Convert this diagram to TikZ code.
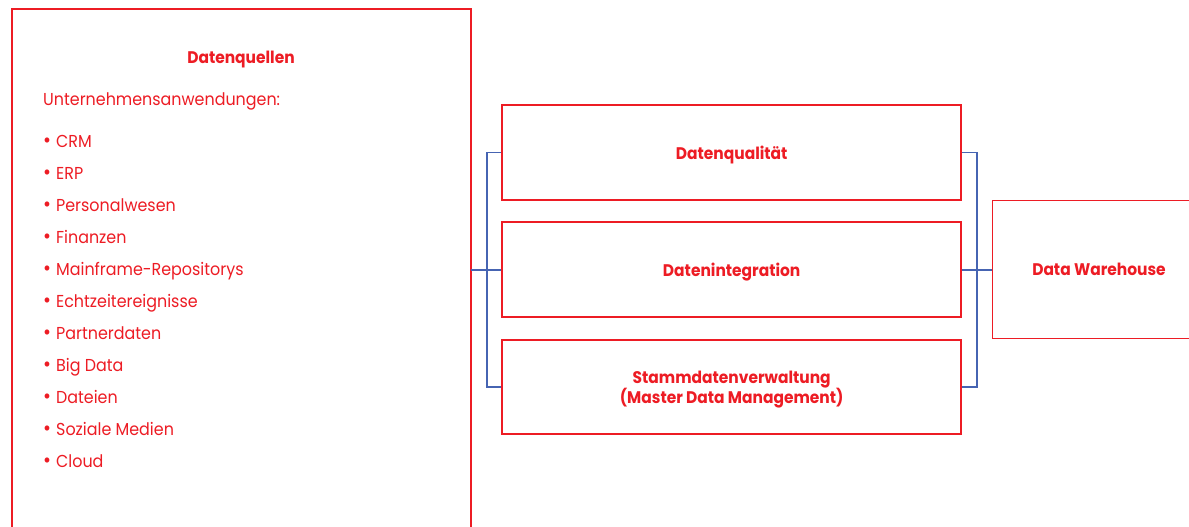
\documentclass[tikz,border=0pt]{standalone}
\usepackage{fontspec}
\setmainfont{Poppins}[FakeStretch=0.92]
\definecolor{brandred}{RGB}{237,28,36}
\definecolor{linkblue}{RGB}{70,100,178}
\newcommand{\dotitem}[1]{{\fontsize{21}{18}\selectfont\textbullet}\hspace{5pt}#1}
\begin{document}
\begin{tikzpicture}[x=1pt,y=-1pt,
  box/.style={draw=brandred,line width=1.5pt,fill=white,inner sep=0pt},
  title/.style={text=brandred,font=\fontsize{16.8}{20}\selectfont\bfseries,align=center,yshift=-2.5pt},
  item/.style={text=brandred,font=\fontsize{17.3}{20}\selectfont,anchor=base west,inner sep=0pt},
  link/.style={draw=linkblue,line width=1.6pt}]
\useasboundingbox (0,0) rectangle (1189,527);
\clip (0,0) rectangle (1189,527);
% source box (runs past the lower edge)
\draw[box] (12,9) rectangle (471,545);
\coordinate (srcR) at (471,269.7);
\node[title] (srcT) at (241,57) {Datenquellen};
\node[item] (apps) at (43,106) {Unternehmensanwendungen:};
\foreach \t [count=\i from 0] in {CRM,ERP,Personalwesen,Finanzen,Mainframe-Repositorys,Echtzeitereignisse,Partnerdaten,Big Data,Dateien,Soziale Medien,Cloud}
  \node[item] (src\i) at (43,147+32*\i) {\dotitem{\t}};
% processing boxes
\node[box,minimum width=459pt,minimum height=95pt] (qual) at (731.7,152.5) {};
\node[title] at (qual) {Datenqualität};
\node[box,minimum width=459pt,minimum height=95pt] (integ) at (731.7,269.7) {};
\node[title] at (integ) {Datenintegration};
\node[box,minimum width=459pt,minimum height=94pt] (mdm) at (731.7,387) {};
\node[title] at (mdm) {Stammdatenverwaltung\\(Master Data Management)};
% warehouse box (runs past the right edge)
\draw[box] (992.3,200.7) rectangle (1200,338.3);
\coordinate (dwL) at (992.3,269.7);
\node[title,yshift=2.5pt] (dwT) at (1099,269.7) {Data Warehouse};
% left bracket
\coordinate (lb) at (487,0);
\draw[link] (qual.west) -- (lb|-qual.west) -- (lb|-mdm.west) -- (mdm.west);
\draw[link] (srcR) -- (integ.west);
% right bracket
\coordinate (rb) at (976.7,0);
\draw[link] (qual.east) -- (rb|-qual.east) -- (rb|-mdm.east) -- (mdm.east);
\draw[link] (integ.east) -- (dwL);
\end{tikzpicture}
\end{document}
